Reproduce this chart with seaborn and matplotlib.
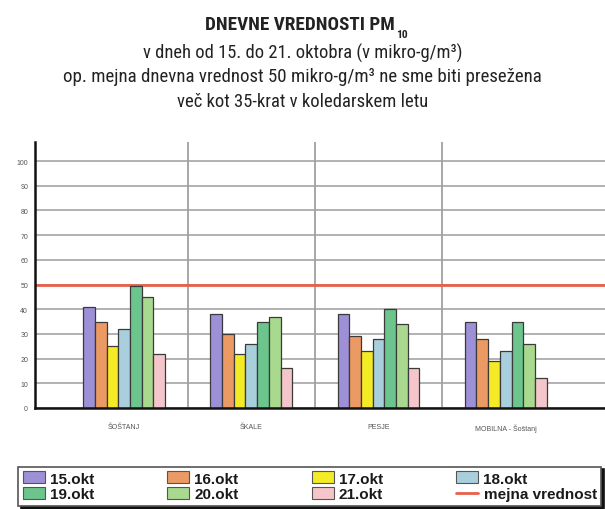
import matplotlib
matplotlib.use('Agg')
import matplotlib.pyplot as plt
from matplotlib.lines import Line2D
import numpy as np
import pandas as pd
import seaborn as sns

# data
sites = ['ŠOŠTANJ', 'ŠKALE', 'PESJE', 'MOBILNA - Šoštanj']
days = ['15.okt', '16.okt', '17.okt', '18.okt', '19.okt', '20.okt', '21.okt']
d15 = [41, 38, 38, 35]
d16 = [35, 30, 29, 28]
d17 = [25, 22, 23, 19]
d18 = [32, 26, 28, 23]
d19 = [49.5, 35, 40, 35]
d20 = [45, 37, 34, 26]
d21 = [22, 16, 16, 12]
limit = 50
yticks = list(range(0, 101, 10))

day_colors = ['#9d90d6', '#ec9a63', '#f4ea25', '#a9cfdc', '#6cc58c', '#a8d98e', '#f4c6cb']
limit_color = '#e8604a'

rows = []
for day, vals in zip(days, [d15, d16, d17, d18, d19, d20, d21]):
    for s, v in zip(sites, vals):
        rows.append({'site': s, 'day': day, 'value': v})
df = pd.DataFrame(rows)

sns.set_style('white')
narrow = ['Roboto Condensed', 'Open Sans Condensed', 'Liberation Sans Narrow', 'DejaVu Sans']
plt.rcParams['font.family'] = ['Liberation Sans', 'DejaVu Sans']

fig = plt.figure(figsize=(6.05, 5.10), dpi=100)
ax = fig.add_axes([35 / 605, 101 / 510, 570 / 605, 266 / 510])

sns.barplot(data=df, x='site', y='value', hue='day', order=sites, hue_order=days,
            palette=day_colors, width=0.644, gap=0, edgecolor='#3a3a3a', linewidth=0.9,
            saturation=1, legend=False, ax=ax, zorder=3)

for t in yticks:
    ax.axhline(t, color='#ababab', lw=1.3, zorder=1)
for xs in [0.5, 1.5, 2.5]:
    ax.axvline(xs, color='#a0a0a0', lw=1.3, zorder=1)
ax.axhline(limit, color=limit_color, lw=2.0, zorder=2)

ax.set_xlim(-0.70, 3.78)
ax.set_ylim(0, 107.7)
ax.set_yticks(yticks)
ax.set_yticklabels([str(t) for t in yticks], fontsize=5, color='#555555')
ax.tick_params(axis='y', length=0, pad=5)
ax.set_xticks(range(len(sites)))
ax.set_xticklabels(sites, fontsize=5, color='#555555')
ax.tick_params(axis='x', length=6, width=0.8, color='#777777', pad=5, direction='out')
ax.set_xlabel('')
ax.set_ylabel('')
sns.despine(ax=ax, top=True, right=True)
for side in ['left', 'bottom']:
    ax.spines[side].set_color('#111111')
    ax.spines[side].set_linewidth(1.8)
    ax.spines[side].set_zorder(5)

# legend, row-wise order
patches = [plt.Rectangle((0, 0), 1, 1, facecolor=c, edgecolor='#555555', lw=0.8) for c in day_colors]
limit_handle = Line2D([0], [0], color=limit_color, lw=2)
handles = [patches[0], patches[4], patches[1], patches[5], patches[2], patches[6], patches[3], limit_handle]
labels = [days[0], days[4], days[1], days[5], days[2], days[6], days[3], 'mejna vrednost']
leg = fig.legend(handles, labels, ncol=4, loc='lower left',
                 bbox_to_anchor=(18 / 605, 3 / 510), borderaxespad=0,
                 frameon=True, fancybox=False, shadow={'color': '#111111', 'alpha': 1},
                 prop={'weight': 'bold', 'size': 11}, handlelength=1.44, handleheight=0.85,
                 handletextpad=0.33, borderpad=0.3, labelspacing=0.1, columnspacing=4.8)
leg.get_frame().set_edgecolor('#555555')
leg.get_frame().set_linewidth(1.2)
for txt in leg.get_texts():
    txt.set_color('#1a1a1a')

# titles, each fitted to the width it has in the reference
renderer = fig.canvas.get_renderer()


def fitted(x, y, s, width_px, size, **kw):
    t = fig.text(x, y, s, ha='center', va='center', fontsize=size, family=narrow,
                 fontstretch='condensed', color='#222222', **kw)
    w = t.get_window_extent(renderer).width
    t.set_fontsize(size * min(1.0, width_px / w))
    return t


title = fitted(300 / 605, 1 - 25 / 510, 'DNEVNE VREDNOSTI PM', 190, 15, fontweight='bold')
bb = title.get_window_extent(renderer)
fig.text((bb.x1 + 1) / fig.bbox.width, (bb.y0 - 1) / fig.bbox.height, '10', ha='left', va='center',
         fontsize=title.get_fontsize() * 0.6, fontweight='bold', family=narrow,
         fontstretch='condensed', color='#222222')
sub = ['v dneh od 15. do 21. oktobra (v mikro-g/m³)',
       'op. mejna dnevna vrednost 50 mikro-g/m³ ne sme biti presežena',
       'več kot 35-krat v koledarskem letu']
sub_widths = [320, 483, 252]
for i, (line, w) in enumerate(zip(sub, sub_widths)):
    fitted(0.5, 1 - (53 + 24.5 * i) / 510, line, w, 14)

fig.savefig('out.png', dpi=100, facecolor='white')
